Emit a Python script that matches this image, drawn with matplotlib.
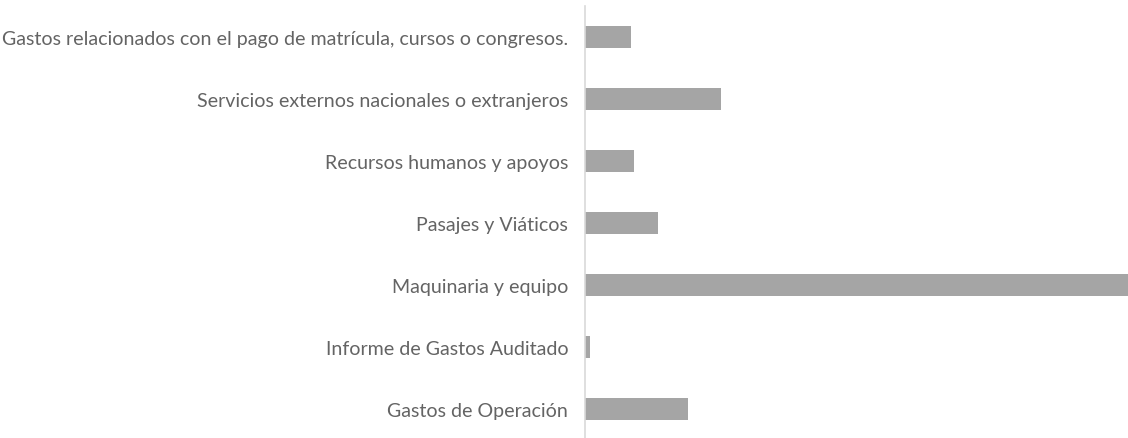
import matplotlib.pyplot as plt

# categories, top to bottom
labels = ['Gastos relacionados con el pago de matrícula, cursos o congresos.',
          'Servicios externos nacionales o extranjeros',
          'Recursos humanos y apoyos',
          'Pasajes y Viáticos',
          'Maquinaria y equipo',
          'Informe de Gastos Auditado',
          'Gastos de Operación']
values = [46, 136, 49, 73, 543, 5, 103]

fig = plt.figure(figsize=(11.28, 4.39), dpi=100)
ax = fig.add_axes([585/1128, -0.005, 1 - 585/1128, 0.989])

y = list(range(len(labels)))[::-1]
ax.barh(y, values, height=0.35, color='#a5a5a5')
ax.set_ylim(-0.5, len(labels) - 0.5)
ax.set_xlim(0, max(values))

ax.set_yticks(y)
ax.set_yticklabels(labels, fontfamily='Lato', fontweight='normal', fontsize=14.1, color='#646464')
ax.tick_params(axis='y', length=0, pad=12)
ax.set_xticks([])

for s in ['top', 'right', 'bottom']:
    ax.spines[s].set_visible(False)
ax.spines['left'].set_color('#d9d9d9')
ax.spines['left'].set_linewidth(1.2)

fig.savefig('out.png', dpi=100)
